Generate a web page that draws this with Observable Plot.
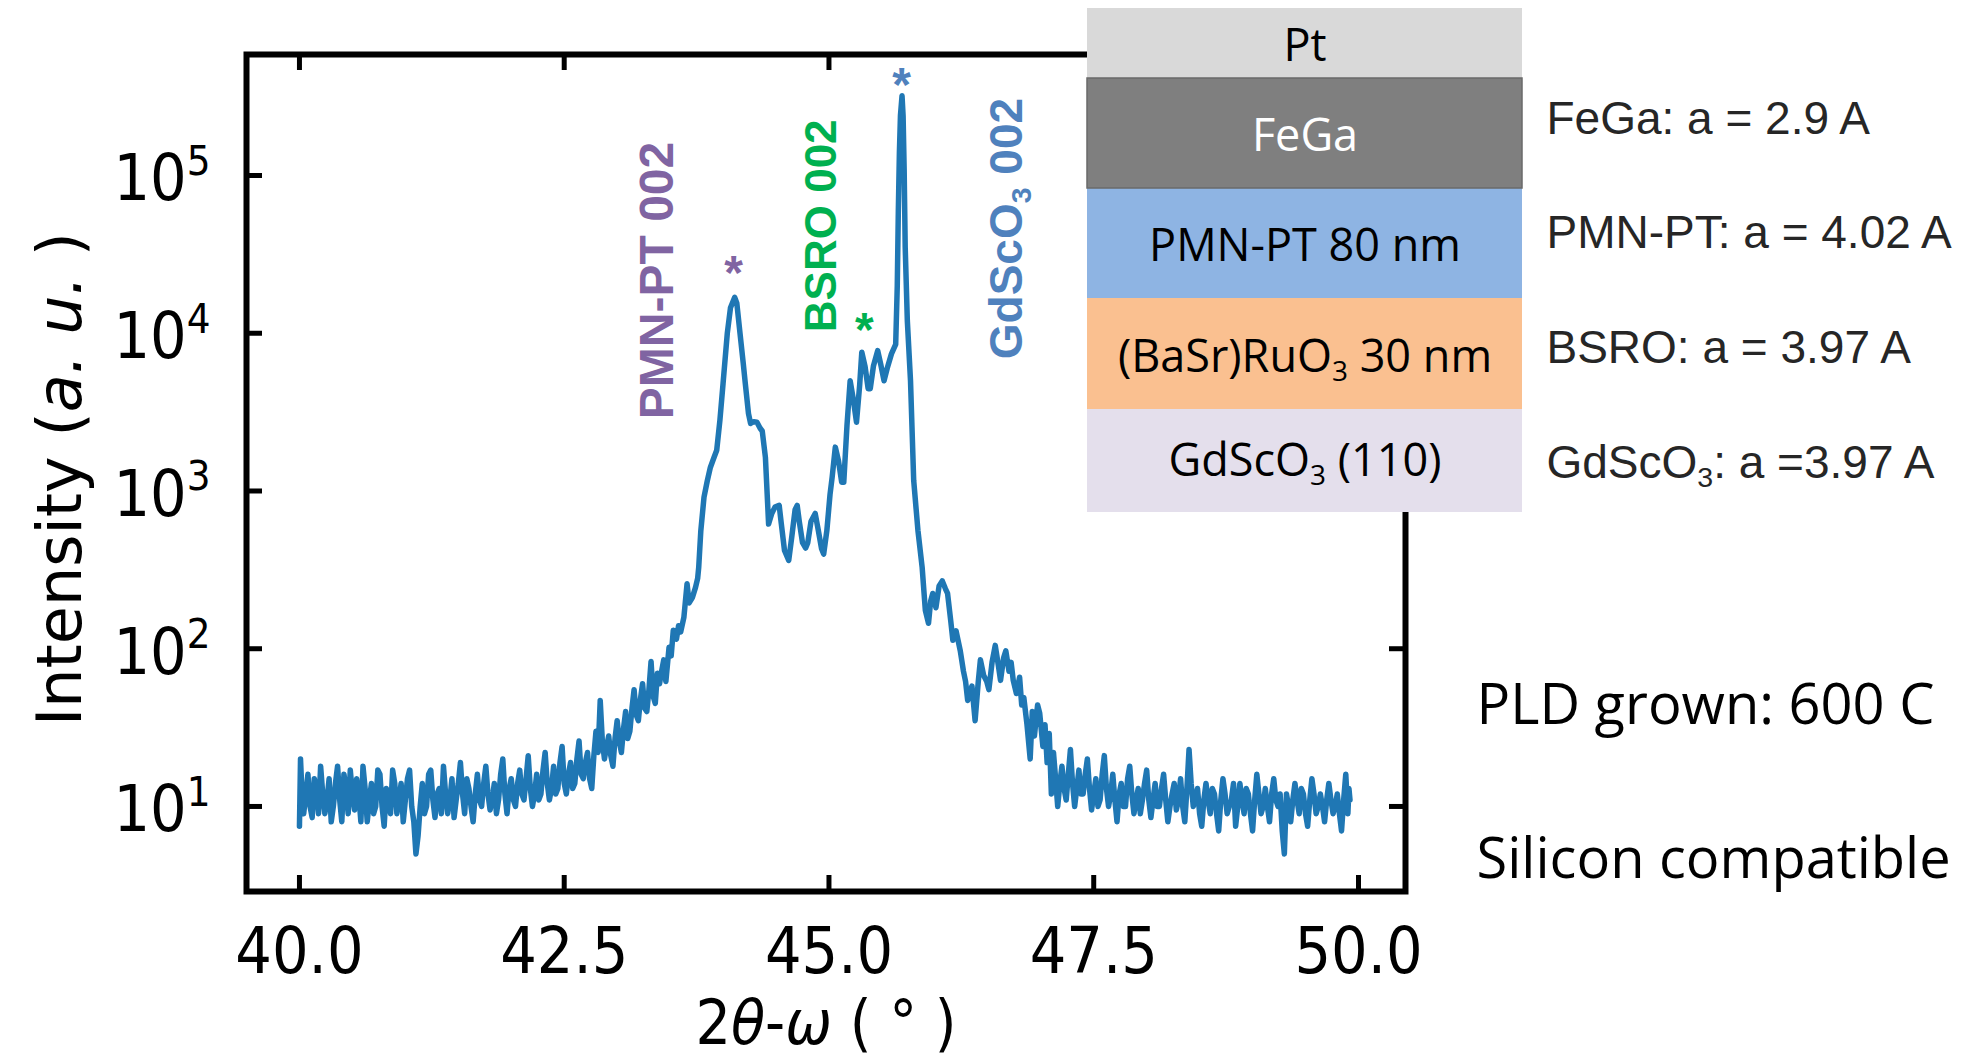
<!DOCTYPE html>
<html><head><meta charset="utf-8">
<script src="https://cdn.jsdelivr.net/npm/d3@7"></script>
<script src="https://cdn.jsdelivr.net/npm/@observablehq/plot@0.6"></script>
<style>
html,body{margin:0;padding:0;background:#fff;}
#wrap{position:relative;width:1974px;height:1057px;overflow:hidden;background:#fff;}
#main{position:absolute;left:0;top:0;}
#inset{position:absolute;left:1087px;top:0;}
</style></head>
<body><div id="wrap"><div id="main"></div><div id="inset"></div></div>
<script>
// ---------------- DATA ----------------
// 2θ-ω scan, [2θ (deg), intensity (a.u.)]
const scanLowAngle = [
[40.00,7.5],[40.01,20],[40.02,14],[40.04,9],[40.06,12],[40.08,16],[40.10,10],[40.12,8.5],[40.14,15],[40.16,13],
[40.18,9],[40.20,18],[40.22,12],[40.24,9],[40.26,11],[40.28,15],[40.30,8],[40.32,10],[40.34,14],[40.36,18],
[40.38,11],[40.40,8],[40.42,16],[40.44,13],[40.46,9],[40.48,17],[40.50,12],[40.52,9.5],[40.54,15],[40.56,12],
[40.58,8],[40.60,18],[40.62,13],[40.64,8],[40.66,11],[40.68,14],[40.70,9],[40.72,10],[40.74,17],[40.76,16],
[40.78,10],[40.80,7.5],[40.82,13],[40.84,12],[40.86,9],[40.88,17],[40.90,14],[40.92,9],[40.94,11],[40.96,14],
[40.98,8],[41.00,11],[41.02,15],[41.04,17],[41.06,10],[41.08,8],[41.10,5],[41.12,6.5],[41.14,10],[41.16,14],
[41.18,9],[41.20,10],[41.22,16],[41.24,17],[41.26,11],[41.28,8.5],[41.30,12],[41.32,13],[41.34,9],[41.36,18],
[41.38,12],[41.40,9],[41.42,11],[41.44,15],[41.46,8.5],[41.48,11],[41.50,14],[41.52,19],[41.54,12],[41.56,9],
[41.58,15],[41.60,13],[41.62,10],[41.64,8],[41.66,12],[41.68,16],[41.70,11],[41.72,10],[41.74,14],[41.76,18],
[41.78,12],[41.80,9.5],[41.82,11],[41.84,14],[41.86,9],[41.88,11],[41.90,16],[41.92,20],[41.94,12],[41.96,9],
[41.98,13],[42.00,15],[42.02,11],[42.04,10],[42.06,14],[42.08,17],[42.10,12],[42.12,11],[42.14,15],[42.16,21],
[42.18,13],[42.20,10],[42.22,12],[42.24,16],[42.26,11],[42.28,12],[42.30,17],[42.32,22],[42.34,14],[42.36,11],
[42.38,13],[42.40,18],[42.42,12],[42.44,13],[42.46,19],[42.48,24],[42.50,14],[42.52,12],[42.54,16],[42.56,19],
[42.58,13],[42.60,14],[42.62,20],[42.64,26],[42.66,16],[42.68,15],[42.70,19],[42.72,22],[42.74,15],[42.76,13],
[42.78,21],[42.80,30],[42.82,22],[42.84,47],[42.86,26],[42.88,20],[42.90,24],[42.92,28],[42.94,21],[42.96,18],
[42.98,27],[43.00,35],[43.02,26],[43.04,22],[43.06,31],[43.08,40],[43.10,27],[43.12,30],[43.14,42],[43.16,55],
[43.18,38],[43.20,35],[43.22,48],[43.24,60],[43.26,42],[43.28,40],[43.30,55],[43.32,83],[43.34,50],[43.36,45],
[43.38,70],[43.40,60],[43.42,72]
];
const pmnptRegion = [
[43.44,85],[43.46,62],[43.49,102],[43.51,90],[43.53,131],[43.56,115],[43.58,140],[43.60,128],[43.63,158],[43.66,258],
[43.68,195],[43.71,211],[43.74,245],[43.76,279],[43.77,327],[43.79,560],[43.82,912],[43.85,1150],[43.88,1410],[43.91,1600],
[43.94,1810],[43.97,2800],[44.00,4800],[44.04,10000],[44.07,14500],[44.11,16900],[44.13,15500],[44.16,10000],[44.19,6500],[44.21,4800],
[44.24,3100],[44.26,2680],[44.29,2750],[44.32,2730],[44.35,2500],[44.37,2400],[44.40,1630],[44.43,617],[44.46,720],[44.49,790],
[44.53,810],[44.55,620],[44.58,420],[44.62,363],[44.65,520],[44.68,760],[44.70,810],[44.72,640],[44.75,470],[44.78,435],
[44.80,470],[44.83,640],[44.87,720],[44.90,560],[44.93,430],[44.95,398],[44.98,560],[45.01,950],[45.03,1222],[45.06,1897],
[45.09,1550],[45.12,1137],[45.14,1137],[45.17,2600],[45.20,5000],[45.23,3800],[45.26,2730],[45.29,4700],[45.31,7590],[45.34,6200],
[45.37,4450],[45.39,4450],[45.42,6200],[45.46,7760],[45.49,6300],[45.52,5000],[45.55,6000],[45.59,7400],[45.63,8500]
];
const substrateRegion = [
[45.645,20000],[45.655,60000],[45.665,140000],[45.675,240000],[45.69,320000],[45.70,240000],[45.71,110000],[45.72,35000],[45.74,12000],[45.77,5000],
[45.80,1170],[45.84,563],[45.88,327],[45.91,175],[45.94,145],[45.96,200],[45.98,224],[46.01,182],[46.04,250],[46.07,269],
[46.10,240],[46.12,224],[46.15,150],[46.17,113],[46.20,130],[46.24,97],[46.27,72],[46.29,62],[46.31,47],[46.35,58],
[46.38,35],[46.41,62],[46.43,85],[46.46,68],[46.49,62],[46.51,55],[46.54,82],[46.57,105],[46.60,78],[46.62,63],
[46.65,88],[46.67,97],[46.70,72],[46.72,82],[46.74,63],[46.77,52],[46.80,66],[46.82,44],[46.84,49],[46.87,33],
[46.90,20],[46.92,40],[46.94,28],[46.97,44],[46.99,39],[47.02,24],[47.04,33],[47.06,19]
];
const scanHighAngle = [
[47.08,29],[47.10,12],[47.12,22],[47.14,15],[47.16,10],[47.18,14],[47.20,18],[47.22,13],[47.24,11],[47.26,16],
[47.28,23],[47.30,14],[47.32,10],[47.34,13],[47.36,17],[47.38,12],[47.40,12],[47.42,16],[47.44,20],[47.46,13],
[47.48,9.5],[47.50,12],[47.52,15],[47.54,10],[47.56,11],[47.58,16],[47.60,21],[47.62,13],[47.64,10],[47.66,12],
[47.68,16],[47.70,11],[47.72,8],[47.74,12],[47.76,14],[47.78,10],[47.80,10],[47.82,15],[47.84,18],[47.86,12],
[47.88,9],[47.90,11],[47.92,13],[47.94,9],[47.96,11],[47.98,14],[48.00,17],[48.02,11],[48.04,8.5],[48.06,11],
[48.08,14],[48.10,10],[48.12,10],[48.14,13],[48.16,16],[48.18,11],[48.20,8],[48.22,10],[48.24,12],[48.26,14],
[48.28,9.5],[48.30,11],[48.32,15],[48.34,10],[48.36,8],[48.38,13],[48.40,23],[48.42,14],[48.44,10],[48.46,11],
[48.48,13],[48.50,9],[48.52,7.5],[48.54,11],[48.56,14],[48.58,11],[48.60,9],[48.62,13],[48.64,12],[48.66,9],
[48.68,7],[48.70,11],[48.72,15],[48.74,12],[48.76,9],[48.78,10],[48.80,11],[48.82,14],[48.84,7.5],[48.86,10],
[48.88,14],[48.90,11],[48.92,9],[48.94,13],[48.96,12],[48.98,9],[49.00,7],[49.02,11],[49.04,16],[49.06,12],
[49.08,9],[49.10,10],[49.12,13],[49.14,10],[49.16,8],[49.18,12],[49.20,15],[49.22,11],[49.24,10],[49.26,12],
[49.28,7],[49.30,5],[49.32,12],[49.34,10],[49.36,8],[49.38,11],[49.40,14],[49.42,11],[49.44,9],[49.46,13],
[49.48,12],[49.50,9],[49.52,7.5],[49.54,11],[49.56,15],[49.58,12],[49.60,9],[49.62,10],[49.64,12],[49.66,10],
[49.68,8],[49.70,11],[49.72,14],[49.74,11],[49.76,9],[49.78,10],[49.80,12],[49.82,9],[49.84,7],[49.86,11],
[49.88,16],[49.90,9],[49.91,13],[49.92,11]
];
const xTickValues = [40, 42.5, 45, 47.5, 50];
const yTickValues = [1e1, 1e2, 1e3, 1e4, 1e5];
const peakNames = ["PMN-PT 002", "BSRO 002", "GdScO_3 002"];
const peakNameAt = [[43.38, 21600], [44.93, 48000], [46.68, 46100]];   // label centres (2θ, intensity)
const peakStarAt = [[44.10, 28500], [45.335, 12400], [45.685, 443000]]; // asterisk centres
const layerNames = ["Pt", "FeGa", "PMN-PT 80 nm", "(BaSr)RuO_3 30 nm", "GdScO_3 (110)"];
const latticeNotes = ["FeGa: a = 2.9 A", "PMN-PT: a = 4.02 A", "BSRO: a = 3.97 A", "GdScO_3: a =3.97 A"];
const growthNotes = ["PLD grown: 600 C", "Silicon compatible"];

// ---------------- STYLE / LAYOUT ----------------
const peakColors = ["#8064a2", "#00b050", "#4f81bd"];
const peakFontSizes = [48, 44, 46];
const layerFills = ["#d9d9d9", "#7f7f7f", "#8eb4e3", "#fac090", "#e4dfec"];
const layerTextFills = ["#000", "#fff", "#000", "#000", "#000"];
const W = 1974, H = 1057;
const M = {left: 246, right: 569, top: 54, bottom: 166};
const innerW = W - M.left - M.right, innerH = H - M.top - M.bottom;
const tickLen = 16;
const mplFont = "'DejaVu Sans Condensed', 'DejaVu Sans', sans-serif";
const mplFontWide = "'DejaVu Sans', sans-serif";
const annFont = "'Liberation Sans', Arial, sans-serif";
const officeFont = "'Open Sans', 'Noto Sans', sans-serif";

// rich text: ~italic~, ^x superscript, _x subscript
function richify(root) {
  const ns = "http://www.w3.org/2000/svg";
  root.querySelectorAll("text").forEach(t => {
    if (t.querySelector("tspan")) return;
    const s = t.textContent;
    if (!/[~^_]/.test(s)) return;
    const fs = parseFloat(getComputedStyle(t).fontSize);
    t.textContent = "";
    let italic = false, buf = "", pending = 0;
    const add = (txt, o = {}) => {
      const sp = document.createElementNS(ns, "tspan");
      sp.textContent = txt;
      if (italic) sp.setAttribute("font-style", "italic");
      const dy = pending + (o.dy || 0);
      if (dy) sp.setAttribute("dy", dy);
      pending = -(o.dy || 0);
      if (o.size) sp.setAttribute("font-size", o.size);
      t.appendChild(sp);
    };
    const flush = () => { if (buf) { add(buf); buf = ""; } };
    for (let i = 0; i < s.length; i++) {
      const c = s[i];
      if (c === "~") { flush(); italic = !italic; }
      else if (c === "^") { flush(); add(s[++i], {dy: -0.40 * fs, size: 0.65 * fs}); }
      else if (c === "_") { flush(); add(s[++i], {dy: 0.2 * fs, size: 0.62 * fs}); }
      else buf += c;
    }
    flush();
  });
}

const scan = [...scanLowAngle, ...pmnptRegion, ...substrateRegion, ...scanHighAngle]
  .map(([t, i]) => ({twoTheta: t, intensity: i}));
const peakLabelData = peakNames.map((name, i) => ({name, x: peakNameAt[i][0], y: peakNameAt[i][1], color: peakColors[i], size: peakFontSizes[i]}));
const peakStarData = peakStarAt.map(([x, y], i) => ({x, y, color: peakColors[i]}));

const main = Plot.plot({
  width: W, height: H,
  marginLeft: M.left, marginRight: M.right, marginTop: M.top, marginBottom: M.bottom,
  style: {fontFamily: mplFont, background: "transparent", color: "#000", overflow: "visible"},
  x: {domain: [39.50, 50.444]},
  y: {type: "log", domain: [2.89, 5.85e5]},
  color: {type: "identity"},
  marks: [
    Plot.axisX(xTickValues, {tickSize: 0, tickPadding: 36, tickFormat: d => d.toFixed(1), fontSize: 64, fontFamily: mplFont, fill: "#000", label: null}),
    Plot.axisY(yTickValues, {tickSize: 0, tickPadding: 36, tickFormat: d => "10^" + Math.round(Math.log10(d)), fontSize: 64, fontFamily: mplFont, fill: "#000", dy: 4.5, label: null}),
    Plot.line(scan, {x: "twoTheta", y: "intensity", stroke: "#1f77b4", strokeWidth: 5.5, strokeLinejoin: "round", strokeLinecap: "round"}),
    Plot.ruleX(xTickValues, {stroke: "#000", strokeWidth: 5, insetTop: innerH - tickLen}),
    Plot.ruleX(xTickValues, {stroke: "#000", strokeWidth: 5, insetBottom: innerH - tickLen}),
    Plot.ruleY(yTickValues, {stroke: "#000", strokeWidth: 5, insetRight: innerW - tickLen}),
    Plot.ruleY(yTickValues, {stroke: "#000", strokeWidth: 5, insetLeft: innerW - tickLen}),
    Plot.frame({stroke: "#000", strokeWidth: 6}),
    Plot.text(peakLabelData, {x: "x", y: "y", text: "name", fill: "color", rotate: -90, fontSize: d => d.size, fontWeight: "bold", fontFamily: annFont, lineAnchor: "middle"}),
    Plot.text(peakStarData, {x: "x", y: "y", text: () => "*", fill: "color", fontSize: 48, fontWeight: "bold", fontFamily: annFont, dy: 12}),
    Plot.text(["Intensity (~a. u.~ )"], {frameAnchor: "left", textAnchor: "middle", rotate: -90, dx: -166, dy: 6, lineAnchor: "bottom", fontSize: 62, fontFamily: mplFontWide, fill: "#000"}),
    Plot.text(["2~θ~-~ω~ ( ° )"], {frameAnchor: "bottom", textAnchor: "middle", dy: 152, lineAnchor: "bottom", fontSize: 62, fontFamily: mplFont, fill: "#000"})
  ]
});
document.getElementById("main").appendChild(main);
richify(main);

// ---------------- inset: layer stack and notes ----------------
const insetW = W - 1087;
const stackEdges = [8, 78, 188, 298, 409, 512];
const stackWidth = 435;
const layerBaselines = [60, 150, 260, 371, 475];
const latticeBaselines = [133, 247, 362, 477];
const growthBaselines = [723, 877];
const layers = layerNames.map((name, i) => ({
  name, y1: stackEdges[i], y2: stackEdges[i + 1], fill: layerFills[i], textFill: layerTextFills[i], base: layerBaselines[i]
}));
const lattice = latticeNotes.map((t, i) => ({t, base: latticeBaselines[i]}));
const growth = growthNotes.map((t, i) => ({t, base: growthBaselines[i]}));
const inset = Plot.plot({
  width: insetW, height: H, margin: 0,
  x: {domain: [0, insetW], range: [0, insetW], axis: null},
  y: {domain: [0, H], range: [0, H], axis: null},
  color: {type: "identity"},
  style: {background: "transparent", overflow: "visible"},
  marks: [
    Plot.rect(layers, {x1: 0, x2: stackWidth, y1: "y1", y2: "y2", fill: "fill"}),
    Plot.rect(layers.filter(d => d.name === "FeGa"), {x1: 0, x2: stackWidth, y1: "y1", y2: "y2", fill: "fill", stroke: "#6a6a6a", strokeWidth: 1.5}),
    Plot.text(layers, {x: stackWidth / 2, y: "base", text: "name", fill: "textFill", fontSize: 45, fontFamily: officeFont, lineAnchor: "bottom"}),
    Plot.text(lattice, {x: 459, y: "base", text: "t", fill: "#262626", fontSize: 46, fontFamily: annFont, textAnchor: "start", lineAnchor: "bottom"}),
    Plot.text(growth, {x: 389, y: "base", text: "t", fill: "#000", fontSize: 56, fontFamily: officeFont, textAnchor: "start", lineAnchor: "bottom"})
  ]
});
document.getElementById("inset").appendChild(inset);
richify(inset);
</script>
</body></html>
